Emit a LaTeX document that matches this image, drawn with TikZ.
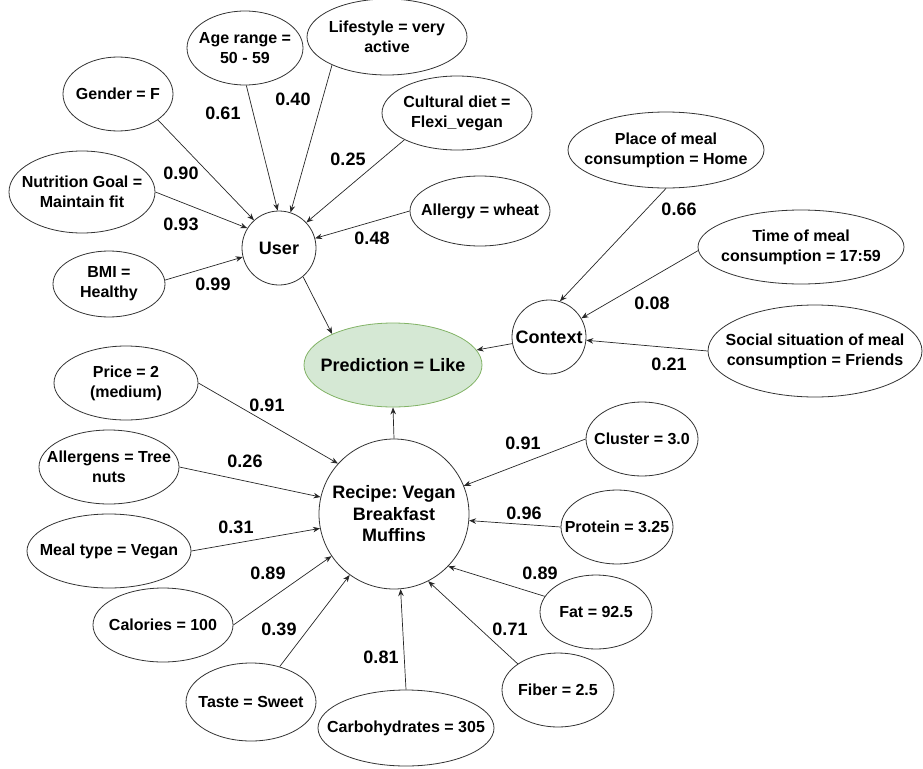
\documentclass[tikz,border=0pt]{standalone}
\usepackage{fontspec}
\setmainfont{Liberation Sans}
\usetikzlibrary{shapes.geometric,arrows.meta}
\definecolor{predfill}{HTML}{D5E8D4}
\definecolor{predline}{HTML}{82B366}
\tikzset{
  lbltext/.style={font=\fontsize{16}{20}\selectfont\bfseries, align=center, inner sep=0pt},
  leaf/.style={ellipse, draw=black!80, line width=0.8pt, inner sep=0pt, label={[lbltext]center:#1}},
  hub/.style={circle, draw=black!80, line width=0.8pt, inner sep=0pt,
    font=\fontsize{18}{21.5}\selectfont\bfseries, align=center},
  wt/.style={font=\fontsize{18}{20}\selectfont\bfseries, inner sep=0pt},
  arr/.style={-{Stealth[length=7pt,width=5.5pt]}, line width=0.7pt, draw=black!85},
}
\frenchspacing
\begin{document}
\begin{tikzpicture}[x=1pt,y=-1pt]
\useasboundingbox (0,0) rectangle (923,768);
% user side
\node[leaf={Gender = F}, minimum width=110, minimum height=74] (gender) at (118,94) {};
\node[leaf={Age range =\\50 - 59}, minimum width=116, minimum height=74] (age) at (245,48) {};
\node[leaf={Lifestyle = very\\active}, minimum width=160, minimum height=76] (life) at (387,37) {};
\node[leaf={Cultural diet =\\Flexi\_vegan}, minimum width=150, minimum height=74] (cult) at (457,113) {};
\node[leaf={Allergy = wheat}, minimum width=140, minimum height=70] (allergy) at (480,211) {};
\node[leaf={Nutrition Goal =\\Maintain fit}, minimum width=146, minimum height=82] (nutri) at (82,192) {};
\node[leaf={BMI =\\Healthy}, minimum width=112, minimum height=66] (bmi) at (109,284) {};
\node[hub, minimum size=74] (user) at (279,248) {User};
% prediction
\node[ellipse, draw=predline, fill=predfill, line width=0.8pt, inner sep=0pt,
      minimum width=178, minimum height=84,
      label={[font=\fontsize{18}{21}\selectfont\bfseries, inner sep=0pt]center:Prediction = Like}] (pred) at (393,365) {};
% context side
\node[hub, minimum size=74] (context) at (549,337) {Context};
\node[leaf={Place of meal\\consumption = Home}, minimum width=196, minimum height=76] (place) at (666,150) {};
\node[leaf={Time of meal\\consumption = 17:59}, minimum width=206, minimum height=74] (time) at (801,247) {};
\node[leaf={Social situation of meal\\consumption = Friends}, minimum width=214, minimum height=92] (social) at (815,351) {};
% recipe side
\node[hub, minimum size=150] (recipe) at (394,514) {Recipe: Vegan\\Breakfast\\Muffins};
\node[leaf={Price = 2\\(medium)}, minimum width=144, minimum height=74] (price) at (126,383) {};
\node[leaf={Allergens = Tree\\nuts}, minimum width=140, minimum height=74] (allerg) at (109,467) {};
\node[leaf={Meal type = Vegan}, minimum width=164, minimum height=74] (meal) at (109,551) {};
\node[leaf={Calories = 100}, minimum width=140, minimum height=74] (cal) at (163,625) {};
\node[leaf={Taste = Sweet}, minimum width=130, minimum height=78] (taste) at (251,702) {};
\node[leaf={Carbohydrates = 305}, minimum width=176, minimum height=76] (carb) at (406,728) {};
\node[leaf={Cluster = 3.0}, minimum width=112, minimum height=74] (cluster) at (642,439) {};
\node[leaf={Protein = 3.25}, minimum width=112, minimum height=74] (protein) at (617,527) {};
\node[leaf={Fat = 92.5}, minimum width=112, minimum height=74] (fat) at (596,612) {};
\node[leaf={Fiber = 2.5}, minimum width=112, minimum height=74] (fiber) at (558,690) {};
% connectors
\draw[arr] (gender.-33) -- (user.132);
\draw[arr] (age.-88) -- (user.92);
\draw[arr] (life.207) -- (user.72);
\draw[arr] (cult.207) -- (user.43);
\draw[arr] (allergy.west) -- (user.15);
\draw[arr] (nutri.east) -- (user.148);
\draw[arr] (bmi.4) -- (user.194);
\draw[arr] (user.-50) -- (pred.153);
\draw[arr] (place.south) -- (context.73);
\draw[arr] (time.182) -- (context.30);
\draw[arr] (social.west) -- (context.-5);
\draw[arr] (context) -- (pred);
\draw[arr] (recipe.north) -- (pred.south);
\draw[arr] (price.east) -- (recipe.138);
\draw[arr] (allerg.east) -- (recipe.167);
\draw[arr] (meal.east) -- (recipe.191);
\draw[arr] (cal.east) -- (recipe.214);
\draw[arr] (taste.51) -- (recipe.234);
\draw[arr] (carb.north) -- (recipe.275);
\draw[arr] (fiber.147) -- (recipe.-63);
\draw[arr] (fat.163) -- (recipe.-44);
\draw[arr] (protein.west) -- (recipe.-5);
\draw[arr] (cluster.west) -- (recipe.22);
% weights
\node[wt] (w1) at (223,113) {0.61};
\node[wt] (w2) at (293,99) {0.40};
\node[wt] (w3) at (181,173) {0.90};
\node[wt] (w4) at (181,224) {0.93};
\node[wt] (w5) at (213,284) {0.99};
\node[wt] (w6) at (348,159) {0.25};
\node[wt] (w7) at (372,238) {0.48};
\node[wt] (w8) at (679,209) {0.66};
\node[wt] (w9) at (652,303) {0.08};
\node[wt] (w10) at (669,364) {0.21};
\node[wt] (w11) at (267,405) {0.91};
\node[wt] (w12) at (245,461) {0.26};
\node[wt] (w13) at (236,527) {0.31};
\node[wt] (w14) at (268,573) {0.89};
\node[wt] (w15) at (279,629) {0.39};
\node[wt] (w16) at (381,657) {0.81};
\node[wt] (w17) at (523,443) {0.91};
\node[wt] (w18) at (524,513) {0.96};
\node[wt] (w19) at (540,573) {0.89};
\node[wt] (w20) at (510,629) {0.71};
\end{tikzpicture}
\end{document}
